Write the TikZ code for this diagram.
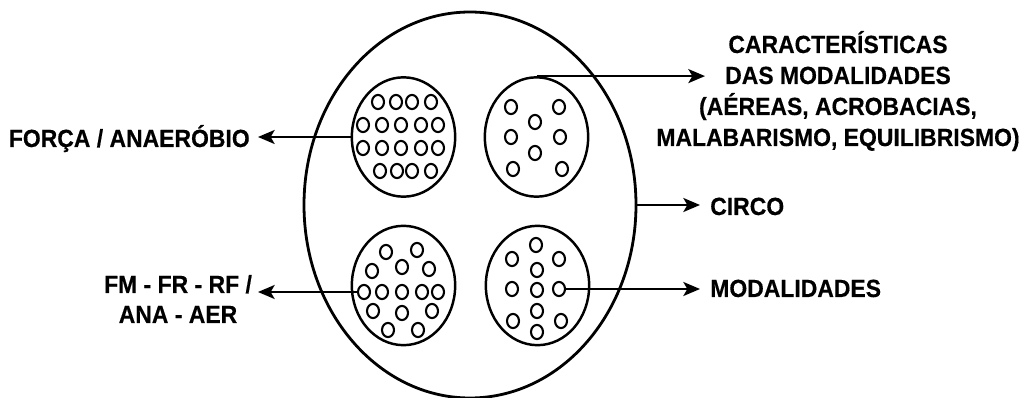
\documentclass[tikz,border=0pt]{standalone}
\usepackage{fontspec}
\setmainfont{Liberation Sans}
\newfontfamily\lblfont[FakeStretch=0.925,FakeBold=0.4]{Liberation Sans Bold}
\usetikzlibrary{shapes.geometric,arrows.meta}
\begin{document}
\begin{tikzpicture}[x=0.75pt,y=-0.75pt,
  lbl/.style={font=\lblfont\fontsize{18.6}{23.25}\selectfont, inner sep=0pt},
  outerring/.style={ellipse, draw, line width=2.1pt, minimum width=249pt, minimum height=289.5pt, inner sep=0pt},
  bundle/.style={ellipse, draw, line width=1.85pt, minimum width=77.5pt, minimum height=89.5pt, inner sep=0pt},
  fib/.style={ellipse, draw, line width=1.55pt, minimum width=9pt, minimum height=10.6pt, inner sep=0pt},
  arr/.style={line width=1.6pt, -{Stealth[length=12.5pt,width=10.5pt,inset=3pt]}}]
\useasboundingbox (0,0) rectangle (1025,398);

% outer circle and the four bundles
\node[outerring] (circo0) at (470,205) {};
\node[bundle] (tl) at (403.5,137) {};
\node[bundle] (tr) at (536.5,137) {};
\node[bundle] (bl) at (403.5,285.5) {};
\node[bundle] (br) at (537.5,285.5) {};

% fibres, top-left
\foreach \x/\y [count=\i] in {378/102,396/102,412/102,431/102,
  363/125,382/125,401/125,421/125,438/125,
  363/148,382/148,401/148,421/148,438/148,
  380/171,397/171,412/171,431/171}
  \node[fib] (tlf\i) at (\x,\y) {};
% fibres, top-right
\foreach \x/\y [count=\i] in {511/107,559/107,535/122,511/137,560/137,535/153,513/169,562/169}
  \node[fib] (trf\i) at (\x,\y) {};
% fibres, bottom-left
\node[fib] (bldot) at (364,292) {};
\foreach \x/\y [count=\i] in {386/252,417/250,402/267,372/271,429/269,
  382/292,402/292,422/292,438/292,
  373/311,402/313,432/311,388/330,418/330}
  \node[fib] (blf\i) at (\x,\y) {};
% fibres, bottom-right
\node[fib] (brdot) at (559,289) {};
\foreach \x/\y [count=\i] in {536/245,512/259,559/259,537/270,512/289,537/290,
  537/311,513/321,561/321,537/332}
  \node[fib] (brf\i) at (\x,\y) {};

% labels
\node[lbl, anchor=base east, inner xsep=6pt] (force) at (258,147) {FORÇA / ANAERÓBIO};
\node[lbl, align=center, anchor=base] (fm) at (178,323) {FM - FR - RF /\\[-0.75pt]ANA - AER};
\node[lbl, align=center, anchor=base] (carac) at (838,146)
  {CARACTERÍSTICAS\\DAS MODALIDADES\\(AÉREAS, ACROBACIAS,\\MALABARISMO, EQUILIBRISMO)};
\node[lbl, anchor=base west, inner xsep=7.5pt] (circo) at (700,215) {CIRCO};
\node[lbl, anchor=base west, inner xsep=7.5pt] (modal) at (700,297) {MODALIDADES};

\coordinate (fmtip) at (258,292);
\coordinate (caractip) at (705,77);

% connectors
\draw[arr] (tl.west) -- (tl.west -| force.east);
\draw[arr] (bldot.west) -- (bldot.west -| fmtip);
\draw[arr] (tr.north) -- (tr.north -| caractip);
\draw[arr] (circo0.east) -- (circo0.east -| circo.west);
\draw[arr] (brdot.east) -- (brdot.east -| modal.west);
\end{tikzpicture}
\end{document}
